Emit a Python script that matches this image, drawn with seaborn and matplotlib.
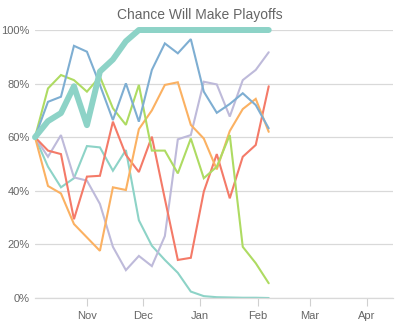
import matplotlib
matplotlib.use("Agg")
import matplotlib.pyplot as plt
import matplotlib.dates as mdates
import matplotlib.ticker as mticker
import numpy as np
import pandas as pd
import seaborn as sns

# Weekly playoff-odds snapshots
dates = pd.date_range("2016-10-04", periods=19, freq="7D")

leader = [60, 66, 69, 79, 64.5, 84.5, 89, 95.8, 100, 100, 100, 100, 100, 100, 100, 100, 100, 100, 100]
blue = [60, 73.2, 75.1, 94.1, 91.9, 79.5, 66.4, 80.1, 65.8, 85.1, 95.0, 91.3, 96.6, 77.0, 69.1, 72.4, 76.4, 72.0, 63.3]
green = [60, 78.2, 83.2, 81.3, 77.0, 82.6, 70.8, 64.6, 79.5, 55.0, 55.0, 46.5, 59.5, 44.7, 49.0, 60.8, 19.1, 13.0, 5.5]
orange = [60, 41.8, 39.0, 27.6, 22.6, 17.6, 41.3, 40.3, 63.0, 70.0, 79.5, 80.5, 64.6, 59.5, 48.0, 62.3, 70.5, 74.3, 62.0]
red = [60, 55.0, 53.7, 29.4, 45.3, 45.6, 65.8, 53.4, 47.0, 60.2, 37.0, 14.2, 15.0, 39.7, 53.7, 37.2, 52.7, 57.1, 79.0]
purple = [60, 52.7, 60.8, 45.0, 43.8, 35.1, 19.1, 10.4, 15.7, 11.9, 23.1, 59.2, 60.8, 80.7, 79.7, 67.7, 81.3, 85.1, 91.7]
teal = [60, 49.0, 41.3, 44.7, 56.7, 56.2, 47.5, 55.2, 29.0, 19.5, 14.2, 9.4, 2.4, 0.7, 0.3, 0.2, 0.1, 0.1, 0.0]

series = {
    "Teal": (teal, "#8dd3c7", 1.5),
    "Purple": (purple, "#bebada", 1.5),
    "Red": (red, "#f47a68", 1.5),
    "Orange": (orange, "#fbb162", 1.5),
    "Green": (green, "#aedb62", 1.5),
    "Blue": (blue, "#7eaed2", 1.5),
    "Leader": (leader, "#8dd3c7", 4.3),
}

sns.set_theme(style="white")
plt.rcParams["font.family"] = ["Liberation Sans", "DejaVu Sans"]

fig = plt.figure(figsize=(4.0, 3.29), dpi=100)
ax = fig.add_axes([0.0875, 0.0942, 0.895, 0.8146])

for name, (vals, color, lw) in series.items():
    df = pd.DataFrame({"date": dates, "pct": np.array(vals) / 100.0})
    sns.lineplot(data=df, x="date", y="pct", ax=ax, color=color,
                 linewidth=lw, clip_on=False, solid_joinstyle="miter" if lw < 2 else "round")

ax.set_xlim(pd.Timestamp("2016-10-04"), pd.Timestamp("2017-04-15"))
ax.set_ylim(0, 1)
ax.set_xlabel("")
ax.set_ylabel("")

ax.yaxis.set_major_locator(mticker.MultipleLocator(0.2))
ax.yaxis.set_major_formatter(mticker.PercentFormatter(1.0, decimals=0))
ax.xaxis.set_major_locator(mdates.MonthLocator(bymonth=[11, 12, 1, 2, 3, 4]))
ax.xaxis.set_major_formatter(mdates.DateFormatter("%b"))

ax.grid(axis="y", color="#d9d9d9", linewidth=0.9)
ax.grid(axis="x", visible=False)
ax.set_axisbelow(True)
for side in ["top", "right", "left"]:
    ax.spines[side].set_visible(False)
ax.spines["bottom"].set_color("#d9d9d9")
ax.spines["bottom"].set_linewidth(0.9)

ax.tick_params(axis="y", length=0, pad=4, labelsize=8, labelcolor="#666666")
ax.tick_params(axis="x", length=5.5, width=0.8, color="#d0d0d0", pad=4,
               labelsize=8, labelcolor="#666666", bottom=True)

fig.text(0.5, 1 - 14.5 / 329, "Chance Will Make Playoffs", fontsize=10,
         color="#666666", ha="center", va="center")

fig.savefig("out.png", dpi=100)
